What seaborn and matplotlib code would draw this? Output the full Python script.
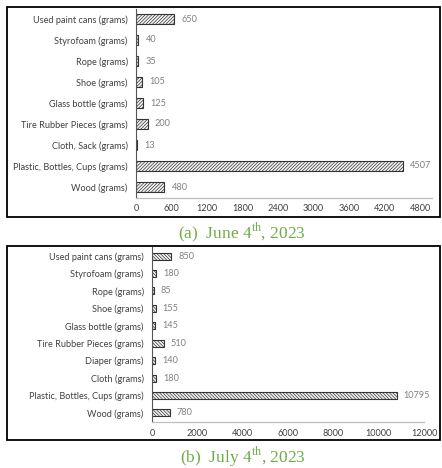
import matplotlib
matplotlib.use("Agg")
import matplotlib.pyplot as plt
import seaborn as sns
import pandas as pd
from matplotlib.patches import Rectangle

sns.set_theme(style="white")
plt.rcParams["font.family"] = ["Lato", "DejaVu Sans"]
plt.rcParams["mathtext.fontset"] = "custom"
plt.rcParams["mathtext.rm"] = "Liberation Serif"

# June 4th, 2023 collection
june_items = ["Used paint cans (grams)", "Styrofoam (grams)", "Rope (grams)",
              "Shoe (grams)", "Glass bottle (grams)", "Tire Rubber Pieces (grams)",
              "Cloth, Sack (grams)", "Plastic, Bottles, Cups (grams)", "Wood (grams)"]
june_grams = [650, 40, 35, 105, 125, 200, 13, 4507, 480]
june_ticks = [0, 600, 1200, 1800, 2400, 3000, 3600, 4200, 4800]

# July 4th, 2023 collection
july_items = ["Used paint cans (grams)", "Styrofoam (grams)", "Rope (grams)",
              "Shoe (grams)", "Glass bottle (grams)", "Tire Rubber Pieces (grams)",
              "Diaper (grams)", "Cloth (grams)", "Plastic, Bottles, Cups (grams)",
              "Wood (grams)"]
july_grams = [850, 180, 85, 155, 145, 510, 140, 180, 10795, 780]
july_ticks = [0, 2000, 4000, 6000, 8000, 10000, 12000]

captions = [r"(a)  June 4$^{\mathrm{th}}$, 2023", r"(b)  July 4$^{\mathrm{th}}$, 2023"]

W, H = 442, 468
fig = plt.figure(figsize=(W / 100, H / 100), dpi=100)


def px_axes(left, top, right, bottom):
    return fig.add_axes([left / W, 1 - bottom / H, (right - left) / W, (bottom - top) / H])


def panel(ax, items, grams, ticks, xmax, hatch, bar_w, label_pad):
    df = pd.DataFrame({"item": items, "grams": grams})
    sns.barplot(data=df, x="grams", y="item", orient="h", ax=ax, color="#f4f4f4",
                edgecolor="#333333", linewidth=0.8, width=bar_w, saturation=1)
    for p in ax.patches:
        p.set_hatch(hatch)
    ax.set_xlim(0, xmax)
    ax.set_xticks(ticks)
    ax.set_xticklabels([str(t) for t in ticks])
    ax.set_xlabel("")
    ax.set_ylabel("")
    ax.tick_params(axis="both", length=0, labelsize=6.6, colors="#404040", pad=5)
    ax.tick_params(axis="y", pad=6)
    for s in ["top", "right"]:
        ax.spines[s].set_visible(False)
    ax.spines["left"].set_color("#555555")
    ax.spines["left"].set_linewidth(0.8)
    ax.spines["bottom"].set_color("#bfbfbf")
    ax.spines["bottom"].set_linewidth(0.9)
    for i, g in enumerate(grams):
        ax.text(g + label_pad, i, str(g), va="center", ha="left",
                fontsize=6.6, color="#808080")


plt.rcParams["hatch.color"] = "#444444"
plt.rcParams["hatch.linewidth"] = 0.5

ax1 = px_axes(136, 8.5, 432, 197.5)
panel(ax1, june_items, june_grams, june_ticks, 5000, "/" * 10, 0.45, 120)

ax2 = px_axes(152, 247.3, 424, 421.7)
panel(ax2, july_items, july_grams, july_ticks, 12000, "\\" * 10, 0.4, 300)

# panel frames
for (l, t, r, b) in [(7, 7, 440, 217), (7, 246, 440, 440)]:
    fig.patches.append(Rectangle((l / W, 1 - b / H), (r - l) / W, (b - t) / H,
                                 transform=fig.transFigure, fill=False,
                                 edgecolor="black", linewidth=1.3))

fig.text(242 / W, 1 - 232 / H, captions[0], ha="center", va="center",
         fontsize=12.5, color="#70ad47", family="Liberation Serif")
fig.text(243 / W, 1 - 457 / H, captions[1], ha="center", va="center",
         fontsize=12.5, color="#70ad47", family="Liberation Serif")

fig.savefig("out.png", dpi=100)
